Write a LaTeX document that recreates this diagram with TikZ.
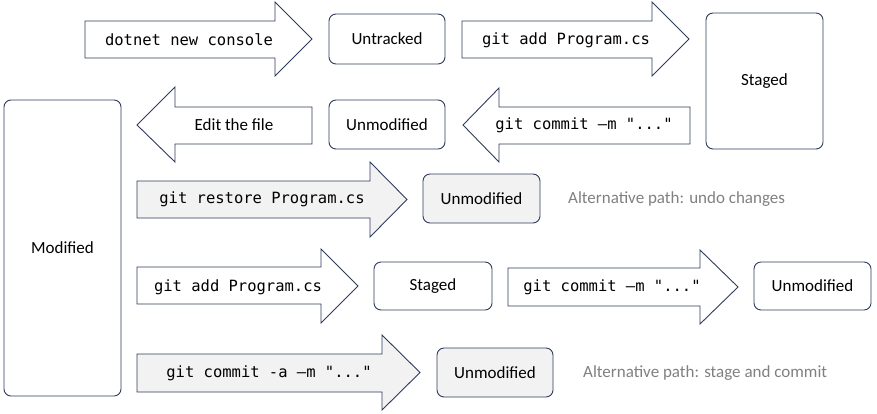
\documentclass[tikz,border=0pt]{standalone}
\usepackage{fontspec}
\setmainfont{Carlito}
\setmonofont{DejaVu Sans Mono}
\definecolor{edge}{HTML}{2F3B5C}
\definecolor{lightfill}{HTML}{F2F2F2}
\definecolor{alttext}{HTML}{808080}
\tikzset{
  statebox/.style={draw=edge, line width=0.9pt, rounded corners=7pt, fill=white},
  graybox/.style={statebox, fill=lightfill},
  arrowshape/.style={draw=edge, line width=0.9pt, line join=miter, fill=white},
  grayarrow/.style={arrowshape, fill=lightfill},
  cmd/.style={font=\ttfamily\fontsize{15.5}{18}\selectfont, text=black, inner sep=0pt},
  lbl/.style={font=\fontsize{17}{20}\selectfont, text=black, inner sep=0pt},
  alt/.style={font=\fontsize{17}{20}\selectfont, text=alttext, inner sep=0pt, anchor=west}
}
% right arrow: x0, shaft top, shaft bottom, head base x, head top, head bottom, tip x
\newcommand{\rblock}[8][arrowshape]{%
  \draw[#1] (#2,#3) -- (#5,#3) -- (#5,#6) -- (#8,{(#6+#7)/2}) -- (#5,#7) -- (#5,#4) -- (#2,#4) -- cycle;}
\begin{document}
\begin{tikzpicture}[x=1pt,y=-1pt]
\useasboundingbox (0,0) rectangle (877,413);

% row 1
\rblock{85}{21}{58}{275}{2}{76}{312}
\node[cmd] (c1) at (189,40) {dotnet new console};
\node[statebox, minimum width=116pt, minimum height=50pt] (untracked) at (387,39) {};
\node[lbl] (untrackedT) at (untracked.center) {Untracked};
\rblock{462}{21}{58}{652}{2}{76}{689}
\node[cmd] (c2) at (566,40) {git add Program.cs};
\node[statebox, minimum width=117pt, minimum height=136pt] (stagedTop) at (764.5,81) {};
\node[lbl] (stagedTopT) at (stagedTop.center) {Staged};

% row 2 (left arrows)
\draw[arrowshape] (312,107) -- (175,107) -- (175,87) -- (137,125) -- (175,162) -- (175,144) -- (312,144) -- cycle;
\node[lbl] (c3) at (234,125) {Edit the file};
\node[statebox, minimum width=116pt, minimum height=49pt] (unmod1) at (387,124.5) {};
\node[lbl] (unmod1T) at (unmod1.center) {Unmodified};
\draw[arrowshape] (690,107) -- (499,107) -- (499,88) -- (463,125) -- (499,162) -- (499,144) -- (690,144) -- cycle;
\node[cmd] (c4) at (584,125) {git commit –m "..."};

% Modified
\node[statebox, minimum width=117pt, minimum height=296pt] (modified) at (62.5,248) {};
\node[lbl] (modifiedT) at (modified.center) {Modified};

% row 3
\rblock[grayarrow]{137}{181}{218}{370}{162}{237}{407}
\node[cmd] (c5) at (262,199) {git restore Program.cs};
\node[graybox, minimum width=117pt, minimum height=49pt] (unmod2) at (481.5,198.5) {};
\node[lbl] (unmod2T) at (unmod2.center) {Unmodified};
\node[alt] (alt1) at (568,199) {Alternative path: undo changes};

% row 4
\rblock{137}{267}{304}{321}{249}{323}{358}
\node[cmd] (c6) at (238,287) {git add Program.cs};
\node[statebox, minimum width=118pt, minimum height=48pt] (staged2) at (433,286) {};
\node[lbl] (staged2T) at (staged2.center) {Staged};
\rblock{508}{268}{306}{700}{250}{324}{738}
\node[cmd] (c7) at (612,287) {git commit –m "..."};
\node[statebox, minimum width=117pt, minimum height=48pt] (unmod3) at (812.5,286) {};
\node[lbl] (unmod3T) at (unmod3.center) {Unmodified};

% row 5
\rblock[grayarrow]{137}{354}{392}{382}{335}{410}{420}
\node[cmd] (c8) at (269,373) {git commit -a –m "..."};
\node[graybox, minimum width=116pt, minimum height=49pt] (unmod4) at (495,372.5) {};
\node[lbl] (unmod4T) at (unmod4.center) {Unmodified};
\node[alt] (alt2) at (583,373) {Alternative path: stage and commit};
\end{tikzpicture}
\end{document}
